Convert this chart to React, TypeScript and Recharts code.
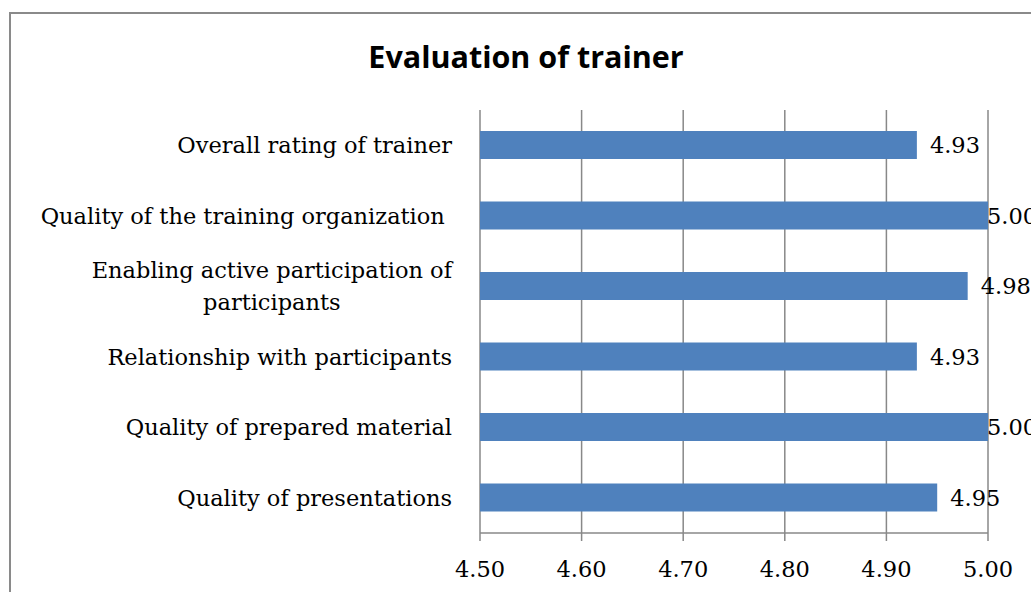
import React from 'react';
import { BarChart, Bar, XAxis, YAxis, CartesianGrid, LabelList } from 'recharts';

const categories: string[][] = [
  ['Overall rating of trainer'],
  ['Quality of the training organization '],
  ['Enabling active participation of', 'participants'],
  ['Relationship with participants'],
  ['Quality of prepared material'],
  ['Quality of presentations'],
];
const scores: number[] = [4.93, 5.0, 4.98, 4.93, 5.0, 4.95];
const xTicks: number[] = [4.5, 4.6, 4.7, 4.8, 4.9, 5.0];
const boundaryTicks: number[] = [0, 1, 2, 3, 4, 5, 6];
const title = 'Evaluation of trainer';

const data = categories.map((lines, i) => ({ name: lines.join('\n'), score: scores[i] }));

const SERIF = 'DejaVu Serif';
const FS = 22.5;
const GRID = '#888888';

let ctx: CanvasRenderingContext2D | null = null;
function measure(t: string): number {
  if (!ctx) {
    const c = document.createElement('canvas');
    ctx = c.getContext('2d');
  }
  if (!ctx) return t.length * FS * 0.55;
  ctx.font = `${FS}px "${SERIF}"`;
  return ctx.measureText(t).width;
}

const CatTick = (props: any) => {
  const { x, y, payload } = props;
  const lines: string[] = String(payload.value).split('\n');
  const lh = 32;
  const right = x;
  if (lines.length === 1) {
    return (
      <text x={right} y={y} textAnchor="end" dominantBaseline="central" style={{ fontFamily: SERIF, fontSize: FS, whiteSpace: 'pre' }} fill="#000">
        {lines[0]}
      </text>
    );
  }
  const w0 = measure(lines[0]);
  const cx = right - w0 / 2;
  const y0 = y - ((lines.length - 1) * lh) / 2;
  return (
    <g>
      {lines.map((l, i) => (
        <text key={i} x={cx} y={y0 + i * lh} textAnchor="middle" dominantBaseline="central" style={{ fontFamily: SERIF, fontSize: FS }} fill="#000">
          {l}
        </text>
      ))}
    </g>
  );
};

const XTick = (props: any) => {
  const { x, y, payload } = props;
  return (
    <text x={x} y={y + 18} textAnchor="middle" dominantBaseline="central" style={{ fontFamily: SERIF, fontSize: FS }} fill="#000">
      {Number(payload.value).toFixed(2)}
    </text>
  );
};

const ValueLabel = (props: any) => {
  const { x, y, width, height, value } = props;
  const lx = Math.min(x + width + 13, 987);
  return (
    <text x={lx} y={y + height / 2} dominantBaseline="central" style={{ fontFamily: SERIF, fontSize: FS }} fill="#000">
      {Number(value).toFixed(2)}
    </text>
  );
};

export default function App() {
  return (
    <div style={{ position: 'absolute', left: 0, top: 0, width: 1031, height: 592, overflow: 'hidden', background: '#fff' }}>
      <div style={{ position: 'absolute', left: 9, top: 12, width: 1100, height: 700, border: '2px solid #8a8a8a', boxSizing: 'border-box' }} />
      <div style={{ position: 'absolute', left: 276, top: 35, width: 500, textAlign: 'center', fontFamily: '"Open Sans", sans-serif', fontWeight: 700, fontSize: 30.5, lineHeight: '42px', color: '#000' }}>
        {title}
      </div>
      <div style={{ position: 'absolute', left: 0, top: 0 }}>
        <BarChart width={1031} height={592} data={data} layout="vertical" margin={{ top: 110, right: 43, bottom: 19, left: 0 }}>
          <CartesianGrid horizontal={false} stroke={GRID} strokeWidth={1.5} />
          <XAxis
            type="number"
            domain={[4.5, 5]}
            ticks={xTicks}
            allowDataOverflow
            height={40}
            tickSize={8}
            tickMargin={10}
            stroke={GRID}
            axisLine={{ stroke: GRID, strokeWidth: 1.5 }}
            tickLine={{ stroke: GRID, strokeWidth: 1.5 }}
            tick={<XTick />}
          />
          <YAxis
            yAxisId="cat"
            type="category"
            dataKey="name"
            width={480}
            axisLine={false}
            tickLine={false}
            tickSize={0}
            tickMargin={28}
            tick={<CatTick />}
          />
          <YAxis
            yAxisId="bnd"
            type="number"
            domain={[0, 6]}
            ticks={boundaryTicks}
            width={0}
            tickSize={8}
            axisLine={{ stroke: GRID, strokeWidth: 1.5 }}
            tickLine={{ stroke: GRID, strokeWidth: 1.5 }}
            tickFormatter={() => ''}
          />
          <Bar yAxisId="cat" dataKey="score" fill="#4F81BD" barSize={28} isAnimationActive={false}>
            <LabelList dataKey="score" content={<ValueLabel />} />
          </Bar>
        </BarChart>
      </div>
    </div>
  );
}
